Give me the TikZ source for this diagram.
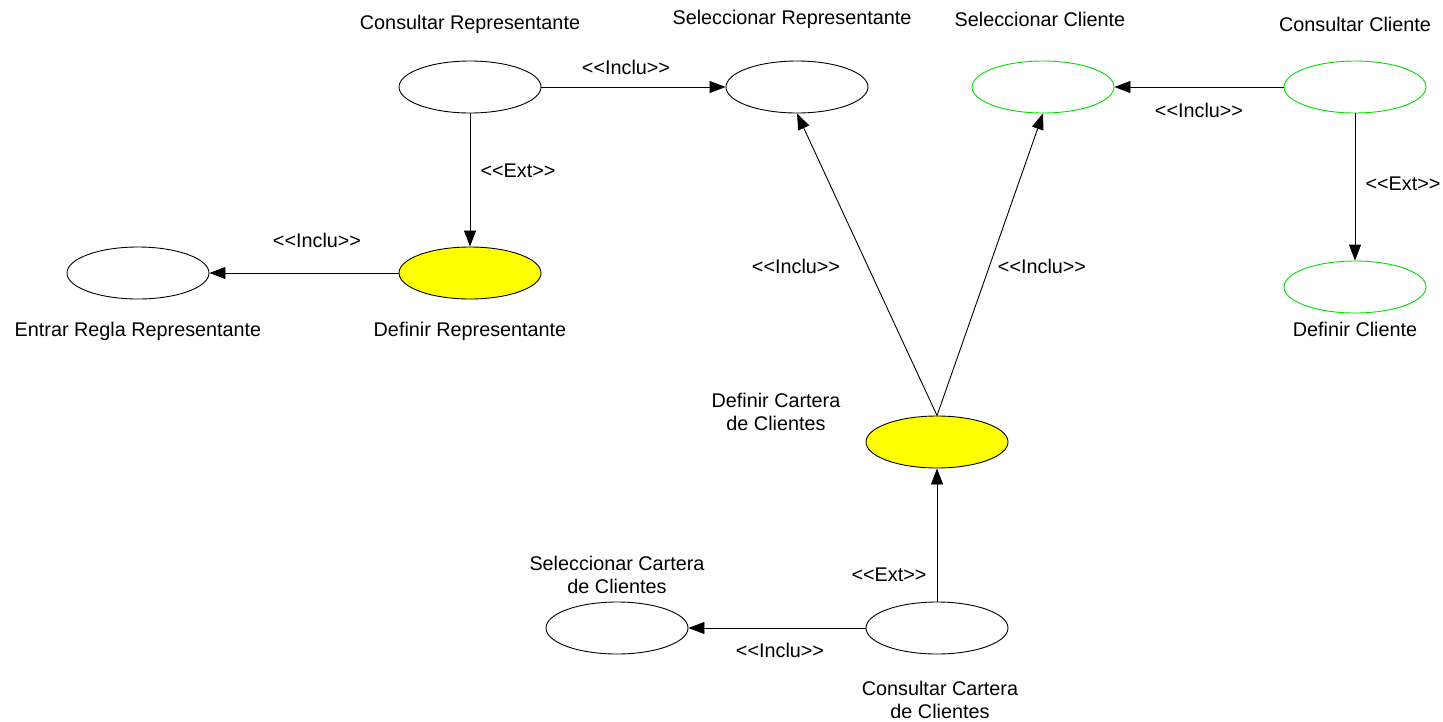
\documentclass[tikz,border=0pt]{standalone}
\usepackage{fontspec}
\setmainfont{Liberation Sans}
\usetikzlibrary{arrows.meta,shapes.geometric}
\definecolor{ucyellow}{RGB}{255,255,0}
\definecolor{ucgreen}{RGB}{0,220,0}
\newcommand{\incl}{<{}<Inclu>{}>}
\newcommand{\extd}{<{}<Ext>{}>}
\begin{document}
\begin{tikzpicture}[x=1pt,y=-1pt,
  uc/.style={ellipse,draw=black,line width=0.9pt,fill=white,minimum width=142pt,minimum height=52pt,inner sep=0pt},
  ucy/.style={uc,fill=ucyellow},
  ucg/.style={uc,draw=ucgreen},
  lbl/.style={font=\fontsize{19.8}{23}\selectfont,align=center,inner sep=0pt},
  rel/.style={draw=black,line width=0.9pt,-{Triangle[length=16pt,width=12pt]}}
]
\useasboundingbox (0,0) rectangle (1443,721);
\fill[white] (0,0) rectangle (1443,721);
% use cases
\node[uc]  (CR)  at (470,87) {};
\node[uc]  (SR)  at (797,87) {};
\node[ucg] (SC)  at (1043,87) {};
\node[ucg] (CC)  at (1355,87) {};
\node[ucg] (DC)  at (1355,287) {};
\node[ucy] (DR)  at (470,273) {};
\node[uc]  (ER)  at (138,273) {};
\node[ucy] (DCa) at (937,442) {};
\node[uc]  (CCa) at (937,628) {};
\node[uc]  (SCa) at (617,628) {};
% names
\node[lbl] (tCR)  at (470,24) {Consultar Representante};
\node[lbl] (tSR)  at (792,19) {Seleccionar Representante};
\node[lbl] (tSC)  at (1040,19) {Seleccionar Cliente};
\node[lbl] (tCC)  at (1355,24) {Consultar Cliente};
\node[lbl] (tDC)  at (1355,329) {Definir Cliente};
\node[lbl] (tER)  at (138,331) {Entrar Regla Representante};
\node[lbl] (tDR)  at (470,331) {Definir Representante};
\node[lbl] (tDCa) at (776,412) {Definir Cartera\\de Clientes};
\node[lbl] (tSCa) at (617,575) {Seleccionar Cartera\\de Clientes};
\node[lbl] (tCCa) at (940,700) {Consultar Cartera\\de Clientes};
% relations
\draw[rel] (CR) -- (SR);
\draw[rel] (CR) -- (DR);
\draw[rel] (DR) -- (ER);
\draw[rel] (CC) -- (SC);
\draw[rel] (CC) -- (DC);
\draw[rel] (DCa.north) -- (SR.south);
\draw[rel] (DCa.north) -- (SC.south);
\draw[rel] (CCa) -- (DCa);
\draw[rel] (CCa) -- (SCa);
% relation labels
\node[lbl] (l1) at (626,67) {\incl};
\node[lbl] (l2) at (518,171) {\extd};
\node[lbl] (l3) at (317,240) {\incl};
\node[lbl] (l4) at (1199,110) {\incl};
\node[lbl] (l5) at (1403,184) {\extd};
\node[lbl] (l6) at (796,266) {\incl};
\node[lbl] (l7) at (1042,266) {\incl};
\node[lbl] (l8) at (889,575) {\extd};
\node[lbl] (l9) at (780,650) {\incl};
\end{tikzpicture}
\end{document}
